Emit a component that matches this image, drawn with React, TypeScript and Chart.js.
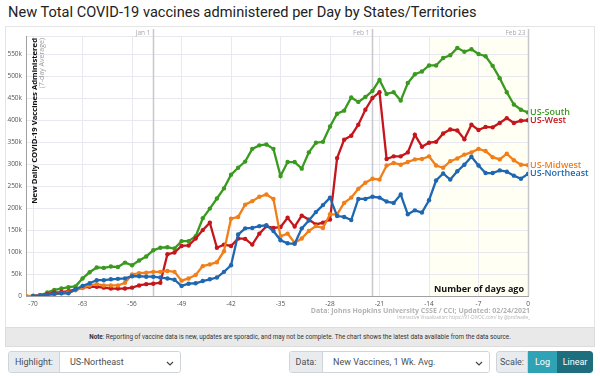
import React, { useEffect, useRef } from 'react';
import { Chart, registerables } from 'chart.js';
Chart.register(...registerables);

const days = [-71, -70, -69, -68, -67, -66, -65, -64, -63, -62, -61, -60, -59, -58, -57, -56, -55, -54, -53, -52, -51, -50, -49, -48, -47, -46, -45, -44, -43, -42, -41, -40, -39, -38, -37, -36, -35, -34, -33, -32, -31, -30, -29, -28, -27, -26, -25, -24, -23, -22, -21, -20, -19, -18, -17, -16, -15, -14, -13, -12, -11, -10, -9, -8, -7, -6, -5, -4, -3, -2, -1, 0];

// values in thousands of doses per day (7-day avg)
const usSouth = [null, 0, 1, 8, 14, 17, 20, 22, 40, 54, 65, 64, 67, 66, 76, 70, 81, 90, 104, 110, 111, 108, 125, 125, 136, 177, 199, 222, 245, 276, 292, 306, 335, 343, 345, 335, 273, 305, 305, 290, 327, 349, 351, 386, 415, 422, 452, 442, 453, 467, 492, 460, 464, 445, 485, 505, 511, 525, 525, 542, 548, 565, 556, 562, 551, 546, 524, 496, 464, 436, 424, 418];
const usWest = [null, 0, 2, 4, 8, 9, 11, 15, 19, 21, 21, 19, 17, 17, 17, 19, 24, 27, 28, 30, 95, 99, 114, 115, 131, 150, 167, 110, 117, 114, 131, 130, 117, 142, 159, 155, 157, 178, 158, 183, 174, 163, 167, 174, 314, 356, 365, 390, 424, 451, 464, 312, 318, 318, 327, 367, 340, 349, 351, 370, 379, 377, 357, 390, 378, 385, 384, 394, 405, 394, 399, 400];
const usMidwest = [0, 0, 1, 2, 4, 6, 8, 13, 19, 24, 27, 24, 24, 24, 30, 49, 52, 53, 55, 55, 57, 55, 35, 40, 48, 68, 72, 77, 102, 176, 180, 208, 216, 226, 231, 221, 136, 142, 121, 131, 148, 159, 155, 186, 186, 212, 224, 244, 258, 267, 265, 297, 303, 299, 305, 311, 312, 318, 297, 292, 307, 313, 322, 327, 335, 330, 316, 311, 324, 309, 299, 298];
const usNortheast = [null, 0, 1, 3, 5, 6, 6, 15, 23, 29, 36, 36, 38, 39, 40, 45, 45, 44, 44, 42, 40, 37, 23, 28, 29, 34, 38, 42, 55, 70, 140, 154, 155, 159, 161, 148, 127, 120, 119, 154, 172, 191, 207, 224, 182, 180, 173, 221, 221, 226, 224, 215, 212, 231, 186, 195, 190, 218, 263, 279, 265, 284, 299, 317, 297, 280, 280, 286, 283, 274, 267, 278];

const seriesNames = ['US-South', 'US-West', 'US-Midwest', 'US-Northeast'];
const seriesValues = [usSouth, usWest, usMidwest, usNortheast];
const seriesColors = ['#3a9a1f', '#c4161c', '#f07f1a', '#1f67b0'];

const xTickValues = [-70, -63, -56, -49, -42, -35, -28, -21, -14, -7, 0];
const yTickValues = [0, 50000, 100000, 150000, 200000, 250000, 300000, 350000, 400000, 450000, 500000, 550000];
const yTop = 592000;
const refLines = [
  { day: -53, label: 'Jan 1' },
  { day: -22, label: 'Feb 1' },
  { day: 0, label: 'Feb 23' },
];
const recentWindowStart = -14;

const FONT = '"Open Sans", sans-serif';

const overlayPlugin = {
  id: 'overlay',
  beforeDraw(chart: any) {
    const { ctx, chartArea, scales } = chart;
    const x0 = scales.x.getPixelForValue(recentWindowStart);
    const x1 = scales.x.getPixelForValue(0);
    ctx.save();
    ctx.fillStyle = 'rgba(255,255,215,0.28)';
    ctx.fillRect(x0, chartArea.top, x1 - x0, chartArea.bottom - chartArea.top);
    ctx.restore();
  },
  beforeDatasetsDraw(chart: any) {
    const { ctx, chartArea, scales } = chart;
    ctx.save();
    refLines.forEach((r) => {
      const x = Math.round(scales.x.getPixelForValue(r.day)) + 0.5;
      ctx.strokeStyle = '#c8c8cc';
      ctx.lineWidth = 1.5;
      ctx.beginPath();
      ctx.moveTo(x, chartArea.top - 7);
      ctx.lineTo(x, chartArea.bottom);
      ctx.stroke();
      ctx.fillStyle = '#a8a8a8';
      ctx.font = `6.5px ${FONT}`;
      ctx.textAlign = 'right';
      ctx.textBaseline = 'middle';
      ctx.fillText(r.label, x - 3, chartArea.top - 3);
    });
    ctx.restore();
  },
  afterDraw(chart: any) {
    const { ctx, chartArea, scales } = chart;
    ctx.save();
    chart.data.datasets.forEach((ds: any) => {
      const last = ds.data[ds.data.length - 1];
      const x = scales.x.getPixelForValue(last.x);
      const y = scales.y.getPixelForValue(last.y);
      ctx.fillStyle = ds.borderColor;
      ctx.font = `600 9px ${FONT}`;
      ctx.textAlign = 'left';
      ctx.textBaseline = 'middle';
      ctx.fillText(ds.label, x + 2, y);
    });
    ctx.translate(chartArea.left + 9, chartArea.top + 2);
    ctx.rotate(-Math.PI / 2);
    ctx.textAlign = 'right';
    ctx.textBaseline = 'middle';
    ctx.fillStyle = '#111';
    ctx.font = `bold 7.7px ${FONT}`;
    ctx.fillText('New Daily COVID-19 Vaccines Administered', 0, 0);
    ctx.fillStyle = '#9a9a9a';
    ctx.font = `7px ${FONT}`;
    ctx.fillText('(7-day Average)', 0, 7);
    ctx.setTransform(1, 0, 0, 1, 0, 0);
    ctx.restore();
    ctx.save();
    ctx.textAlign = 'right';
    ctx.textBaseline = 'middle';
    ctx.fillStyle = '#111';
    ctx.font = `bold 9px ${FONT}`;
    ctx.fillText('Number of days ago', chartArea.right - 4, chartArea.bottom - 7);
    ctx.fillStyle = '#b3b3b3';
    ctx.font = `bold 7px ${FONT}`;
    ctx.fillText('Data: Johns Hopkins University CSSE / CCI; Updated: 02/24/2021', chartArea.right + 2, chartArea.bottom + 15);
    ctx.font = `4.5px ${FONT}`;
    ctx.fillText('Interactive Visualization: https://91-DIVOC.com/ by @profwade_', chartArea.right + 2, chartArea.bottom + 22);
    ctx.restore();
  },
};

function ChartCanvas() {
  const ref = useRef<HTMLCanvasElement>(null);
  useEffect(() => {
    if (!ref.current) return;
    const order = [3, 2, 1, 0];
    const chart = new Chart(ref.current, {
      type: 'line',
      data: {
        datasets: seriesNames.map((name, i) => ({
          label: name,
          data: days
            .map((d, j) => ({ x: d, y: seriesValues[i][j] == null ? null : (seriesValues[i][j] as number) * 1000 }))
            .filter((p) => p.y !== null),
          borderColor: seriesColors[i],
          backgroundColor: seriesColors[i],
          borderWidth: 2.3,
          pointRadius: 2.2,
          pointBorderWidth: 0,
          pointBackgroundColor: seriesColors[i],
          tension: 0,
          order: order[i],
        })),
      },
      options: {
        animation: false,
        responsive: false,
        maintainAspectRatio: false,
        layout: { padding: { left: 0, right: 72, top: 12, bottom: 0 } },
        plugins: { legend: { display: false }, tooltip: { enabled: false } },
        scales: {
          x: {
            type: 'linear',
            min: -71,
            max: 0,
            afterBuildTicks: (axis: any) => {
              axis.ticks = [{ value: -71 }, ...xTickValues.map((v) => ({ value: v }))];
            },
            afterFit: (s: any) => {
              s.height = 30;
            },
            ticks: {
              autoSkip: false,
              maxRotation: 0,
              padding: 4,
              color: '#555',
              font: { size: 6.5, family: FONT },
              callback: (v: any) => (v === -71 ? '' : String(v)),
            },
            grid: { color: '#e8e8f0', lineWidth: 1, drawTicks: false },
            border: { color: '#a0a0a0', width: 1 },
          },
          y: {
            min: 0,
            max: yTop,
            afterBuildTicks: (axis: any) => {
              axis.ticks = [...yTickValues.map((v) => ({ value: v })), { value: yTop }];
            },
            afterFit: (s: any) => {
              s.width = 26;
            },
            ticks: {
              padding: 4,
              color: '#555',
              font: { size: 6.5, family: FONT },
              callback: (v: any) => (v === yTop ? '' : v === 0 ? '0' : v / 1000 + 'k'),
            },
            grid: { color: '#e8e8f0', lineWidth: 1, drawTicks: false },
            border: { color: '#a0a0a0', width: 1 },
          },
        },
      },
      plugins: [overlayPlugin],
    } as any);
    return () => chart.destroy();
  }, []);
  return <canvas ref={ref} width={600} height={302} style={{ position: 'absolute', left: 0, top: 24, width: 600, height: 302 }} />;
}

const chevron = (
  <svg width="8" height="6" viewBox="0 0 8 6" style={{ position: 'absolute', right: 6, top: 9 }}>
    <polyline points="1,1 4,4 7,1" fill="none" stroke="#444" strokeWidth="1.2" />
  </svg>
);

const groupStyle: React.CSSProperties = {
  position: 'absolute',
  top: 351,
  height: 22,
  display: 'flex',
  border: '1px solid #ced4da',
  borderRadius: 3,
  boxSizing: 'border-box',
  overflow: 'hidden',
  fontFamily: 'Roboto, sans-serif',
  fontSize: 9,
  color: '#495057',
};
const labelStyle: React.CSSProperties = {
  background: '#e9ecef',
  borderRight: '1px solid #ced4da',
  display: 'flex',
  alignItems: 'center',
  justifyContent: 'center',
  boxSizing: 'border-box',
};
const selectStyle: React.CSSProperties = {
  background: '#fff',
  position: 'relative',
  display: 'flex',
  alignItems: 'center',
  paddingLeft: 10,
  boxSizing: 'border-box',
};

export default function App() {
  return (
    <div style={{ position: 'fixed', left: 0, top: 0, width: 600, height: 376, background: '#fff', overflow: 'hidden' }}>
      <div style={{ position: 'absolute', left: 8, top: 2, fontFamily: 'Roboto, sans-serif', fontSize: 14.6, color: '#222', whiteSpace: 'nowrap', lineHeight: '20px' }}>
        New Total COVID-19 vaccines administered per Day by States/Territories
      </div>
      <div style={{ position: 'absolute', left: 5, top: 26, width: 590, height: 302, border: '1px solid #e4e4e4', borderBottom: 'none', boxSizing: 'border-box' }} />
      <ChartCanvas />
      <div
        style={{
          position: 'absolute',
          left: 5,
          top: 327,
          width: 590,
          height: 20,
          background: '#e9e9ea',
          border: '1px solid #dcdcdc',
          boxSizing: 'border-box',
          display: 'flex',
          alignItems: 'center',
          justifyContent: 'center',
          fontFamily: 'Roboto, sans-serif',
          fontSize: 6.3,
          color: '#333',
          whiteSpace: 'nowrap',
        }}
      >
        <span>
          <b>Note</b>: Reporting of vaccine data is new, updates are sporadic, and may not be complete. The chart shows the latest data available from the data source.
        </span>
      </div>
      <div style={{ ...groupStyle, left: 8, width: 173 }}>
        <div style={{ ...labelStyle, width: 51 }}>Highlight:</div>
        <div style={{ ...selectStyle, flex: 1 }}>US-Northeast{chevron}</div>
      </div>
      <div style={{ ...groupStyle, left: 289, width: 201 }}>
        <div style={{ ...labelStyle, width: 33 }}>Data:</div>
        <div style={{ ...selectStyle, flex: 1 }}>New Vaccines, 1 Wk. Avg.{chevron}</div>
      </div>
      <div style={{ ...groupStyle, left: 496, width: 97, border: 'none' }}>
        <div style={{ ...labelStyle, width: 32, border: '1px solid #ced4da', borderRadius: '3px 0 0 3px' }}>Scale:</div>
        <div style={{ width: 29, background: '#2fa3b5', color: '#fff', display: 'flex', alignItems: 'center', justifyContent: 'center' }}>Log</div>
        <div style={{ flex: 1, background: '#1d6f7d', color: '#fff', display: 'flex', alignItems: 'center', justifyContent: 'center', borderRadius: '0 3px 3px 0' }}>Linear</div>
      </div>
    </div>
  );
}
